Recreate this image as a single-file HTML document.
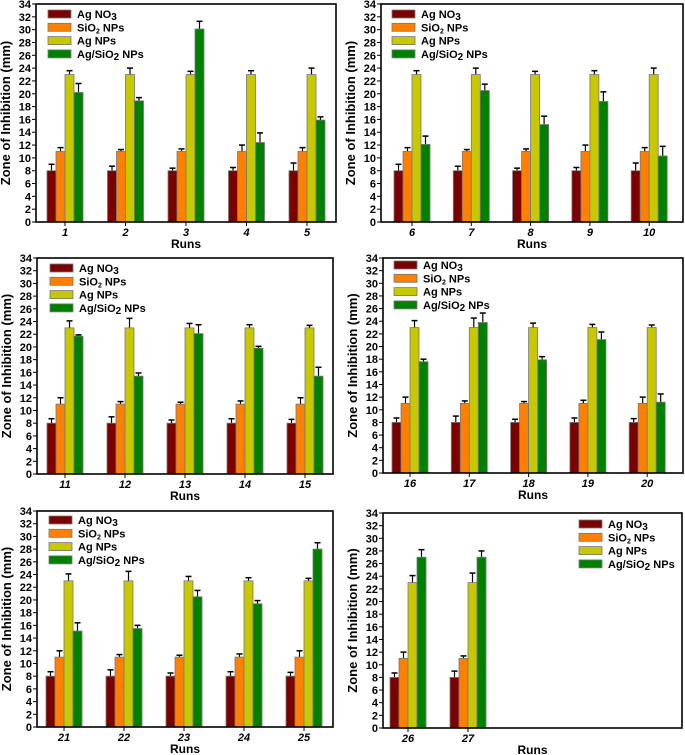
<!DOCTYPE html>
<html><head><meta charset="utf-8"><style>
html,body{margin:0;padding:0;background:#fff;}
svg{display:block;font-family:"Liberation Sans",Arial,sans-serif;}
</style></head><body>
<svg id="chart" width="685" height="755" viewBox="0 0 685 755" xmlns="http://www.w3.org/2000/svg"></svg>
<script>
const seriesNames = ["Ag NO3","SiO2 NPs","Ag NPs","Ag/SiO2 NPs"];
const seriesColors = ["#7b0000","#ff8000","#c8c800","#008000"];
const yTicks = [0,2,4,6,8,10,12,14,16,18,20,22,24,26,28,30,32,34];
const runs1 = ["1","2","3","4","5"];
const runs2 = ["6","7","8","9","10"];
const runs3 = ["11","12","13","14","15"];
const runs4 = ["16","17","18","19","20"];
const runs5 = ["21","22","23","24","25"];
const runs6 = ["26","27"];
const agno3Vals = [8,8,8,8,8];
const sio2Vals = [11,11,11,11,11];
const agnpVals = [23,23,23,23,23];
const agno3ErrA = [9,8.7,8.4,8.5,9.2];
const sio2ErrA = [11.6,11.3,11.4,12,11.6];
const agnpErrA = [23.6,24,23.5,23.6,24];
const agno3ErrB = [8.7,9,8.5,8.7,8.6];
const sio2ErrB = [12,11.4,11.3,11.5,12];
const agnpErrB = [24.1,24.5,23.7,23.5,23.4];
const green1 = [20.2,18.9,30.1,12.4,15.9];
const green1Err = [21.6,19.4,31.3,13.9,16.4];
const green2 = [12.1,20.5,15.2,18.8,10.3];
const green2Err = [13.4,21.5,16.5,20.3,11.8];
const green3 = [21.7,15.4,22.1,19.8,15.4];
const green3Err = [21.9,15.9,23.5,20.1,16.8];
const green4 = [17.6,23.8,17.9,21.1,11.2];
const green4Err = [18,25.3,18.4,22.3,12.5];
const green5 = [15.1,15.5,20.5,19.4,28];
const green5Err = [16.4,16,21.5,19.9,29];
const green6 = [27,27];
const green6Err = [28.2,28];

const NS="http://www.w3.org/2000/svg";
const svg=document.getElementById('chart');
function mk(tag,attrs,parent){const e=document.createElementNS(NS,tag);for(const k in attrs)e.setAttribute(k,attrs[k]);(parent||svg).appendChild(e);return e;}

const panels=[
 {runs:runs1,vals:[agno3Vals,sio2Vals,agnpVals,green1],errs:[agno3ErrA,sio2ErrA,agnpErrA,green1Err],l:36,r:336,t:4,b:222,c0:65,step:60.5,leg:[48,15]},
 {runs:runs2,vals:[agno3Vals,sio2Vals,agnpVals,green2],errs:[agno3ErrA,sio2ErrA,agnpErrA,green2Err],l:381,r:683,t:4,b:222,c0:412,step:59.3,leg:[392,15]},
 {runs:runs3,vals:[agno3Vals,sio2Vals,agnpVals,green3],errs:[agno3ErrB,sio2ErrB,agnpErrB,green3Err],l:37,r:333,t:258,b:474,c0:65,step:60,leg:[50,269]},
 {runs:runs4,vals:[agno3Vals,sio2Vals,agnpVals,green4],errs:[agno3ErrB,sio2ErrB,agnpErrB,green4Err],l:383,r:683,t:258,b:473,c0:410,step:59.3,leg:[394,266]},
 {runs:runs5,vals:[agno3Vals,sio2Vals,agnpVals,green5],errs:[agno3ErrB,sio2ErrB,agnpErrB,green5Err],l:37,r:333,t:511,b:727,c0:64,step:60,leg:[49,521]},
 {runs:runs6,vals:[agno3Vals,sio2Vals,agnpVals,green6],errs:[agno3ErrB,sio2ErrB,agnpErrB,green6Err],l:383,r:682,t:513,b:728,c0:408,step:60,leg:[579,525]}
];

panels.forEach((p,pi)=>{
  const g=mk('g',{});
  
  
  const y=v=>p.b-(v/34)*(p.b-p.t);
  // y ticks
  yTicks.forEach(t=>{
    const ln=mk('line',{x1:p.l-4,x2:p.l,y1:y(t),y2:y(t),stroke:'#000','stroke-width':1},g);
    
    
    const tx=mk('text',{x:p.l-5,y:y(t)+4,'text-anchor':'end','font-size':'11','font-weight':'bold'},g);
    
    
    tx.textContent=t;
  });
  // y title
  const yx=p.l-26, ym=(p.t+p.b)/2;
  const yt=mk('text',{x:yx,y:ym,'text-anchor':'middle','font-size':'13','font-weight':'bold',transform:`rotate(-90 ${yx} ${ym})`},g);
  
  
  yt.textContent='Zone of Inhibition (mm)';
  // bars
  p.runs.forEach((run,i)=>{
    const cx=p.c0+i*p.step;
    for(let s=0;s<4;s++){
      const v=p.vals[s][i], e=p.errs[s][i];
      const x=cx+(s-2)*9;
      const bx=x+4.5;
      const el=mk('line',{x1:bx,x2:bx,y1:y(v),y2:y(e),stroke:'#000','stroke-width':1.2},g);
      
      
      const cap=mk('line',{x1:bx-3,x2:bx+3,y1:y(e),y2:y(e),stroke:'#000','stroke-width':1.5},g);
      
      
      const r=mk('rect',{x:x,y:y(v),width:9,height:p.b-y(v),fill:seriesColors[s],stroke:'#777','stroke-width':0.8},g);
      
      
    }
    const tk=mk('line',{x1:cx,x2:cx,y1:p.b,y2:p.b+4,stroke:'#000','stroke-width':1},g);
    
    
    const lb=mk('text',{x:cx,y:p.b+14,'text-anchor':'middle','font-size':'11','font-weight':'bold','font-style':'italic'},g);
    
    
    lb.textContent=run;
  });
  // frame
  const fr=mk('rect',{x:p.l,y:p.t,width:p.r-p.l,height:p.b-p.t,fill:'none',stroke:'#000','stroke-width':1.6},g);
  
  
  // x title
  const xt=mk('text',{x:(p.l+p.r)/2,y:p.b+26,'text-anchor':'middle','font-size':'12','font-weight':'bold'},g);
  
  
  xt.textContent='Runs';
  // legend
  const [lx,ly]=p.leg;
  for(let s=0;s<4;s++){
    const yy=ly+s*13.3;
    const sw=mk('rect',{x:lx,y:yy-5,width:23,height:8,fill:seriesColors[s],stroke:'#777','stroke-width':0.8},g);
    
    
    const lt=mk('text',{x:lx+29,y:yy+3,'font-size':'11','font-weight':'bold'},g);
    
    
    if(s===0){lt.innerHTML='Ag NO<tspan dy="2" font-size="10">3</tspan>';}
    else if(s===1){lt.innerHTML='SiO<tspan dy="2" font-size="7">2</tspan><tspan dy="-2"> NPs</tspan>';}
    else if(s===2){lt.textContent='Ag NPs';}
    else {lt.innerHTML='Ag/SiO<tspan dy="2" font-size="10">2</tspan><tspan dy="-2"> NPs</tspan>';}
  }
});
</script>
</body></html>
